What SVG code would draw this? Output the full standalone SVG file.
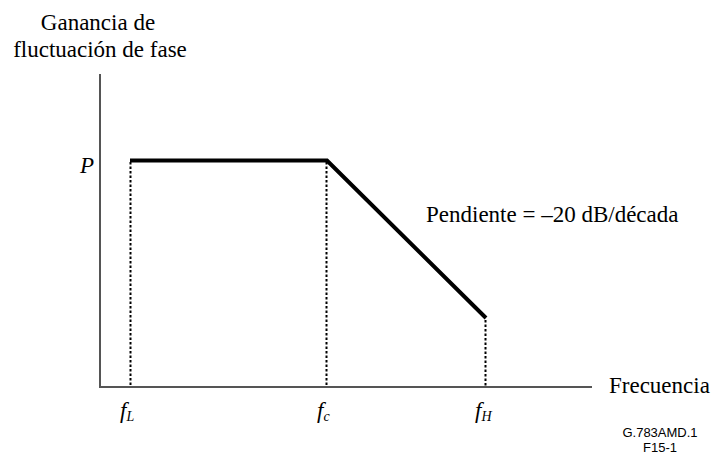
<svg xmlns="http://www.w3.org/2000/svg" width="716" height="463" viewBox="0 0 716 463">
<style>
.t{font-family:"Liberation Serif","Times New Roman",serif;font-size:23px;fill:#000}
.i{font-family:"Liberation Serif","Times New Roman",serif;font-style:italic;fill:#000}
.s{font-family:"Liberation Sans",Arial,sans-serif;font-size:13px;fill:#000}
.axis{stroke:#555;stroke-width:2;fill:none}
.curve{stroke:#000;stroke-width:4;fill:none;stroke-linejoin:miter}
.dot{stroke:#000;stroke-width:2;stroke-dasharray:2.5,2;fill:none}
</style>
<rect width="716" height="463" fill="#fff"/>
<g id="axes">
<polyline class="axis" points="100,74 100,387 592,387"/>
</g>
<g id="connectors">
<line class="dot" x1="130.5" y1="162" x2="130.5" y2="386"/>
<line class="dot" x1="326.5" y1="162" x2="326.5" y2="386"/>
<line class="dot" x1="485.5" y1="320" x2="485.5" y2="386"/>
<polyline class="curve" points="130,160.5 327,160.5 486,318"/>
</g>
<g id="labels">
<text class="t" x="98" y="30" text-anchor="middle">Ganancia de</text>
<text class="t" x="100" y="57" text-anchor="middle">fluctuación de fase</text>
<text class="i" x="80" y="173" font-size="23">P</text>
<text class="t" x="426" y="222">Pendiente = –20 dB/década</text>
<text class="t" x="609" y="393">Frecuencia</text>
<text class="i" x="120" y="418" font-size="23">f<tspan font-size="14" dy="3">L</tspan></text>
<text class="i" x="317" y="418" font-size="23">f<tspan font-size="14" dy="3">c</tspan></text>
<text class="i" x="475" y="418" font-size="23">f<tspan font-size="14" dy="3">H</tspan></text>
<text class="s" x="660" y="437" text-anchor="middle">G.783AMD.1</text>
<text class="s" x="660" y="452" text-anchor="middle">F15-1</text>
</g>
</svg>
